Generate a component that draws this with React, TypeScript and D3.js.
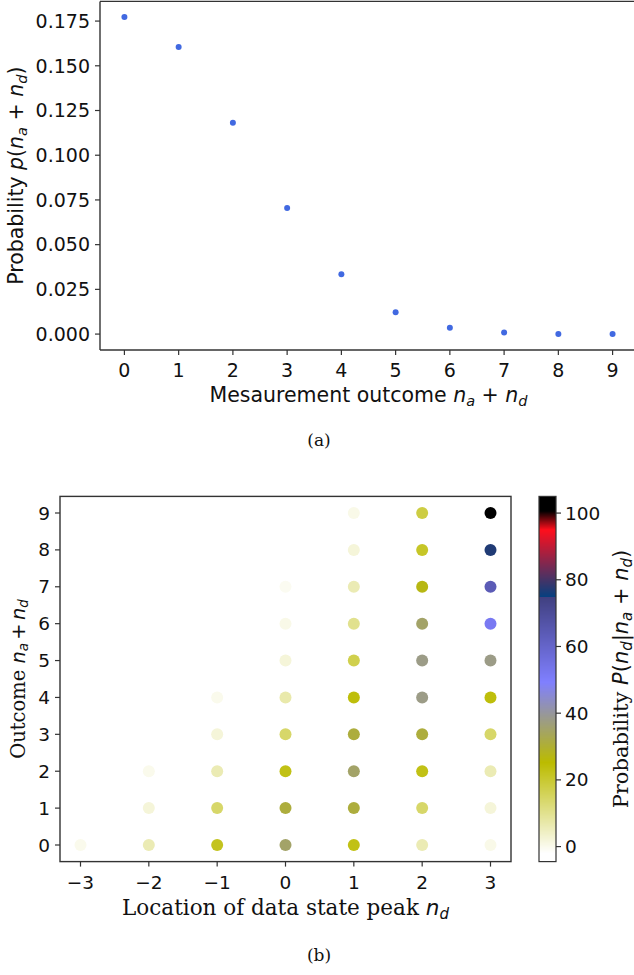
import React from "react";
import * as d3 from "d3";

// ---- Panel (a) data ----
const outcomes = [0, 1, 2, 3, 4, 5, 6, 7, 8, 9];
const probabilities = [0.1773, 0.1605, 0.1182, 0.0705, 0.0335, 0.0122, 0.0035, 0.0009, 0.0001, 0.00002];
const yTicksA = [0, 0.025, 0.05, 0.075, 0.1, 0.125, 0.15, 0.175];

// ---- Panel (b) data ----
const peakLocations = [-3, -2, -1, 0, 1, 2, 3];
const outcomeRows = [0, 1, 2, 3, 4, 5, 6, 7, 8, 9];
// conditional probability (%) per outcome row, columns nd = -3..3 (null = no point)
const row0 = [0, 6, 22, 35, 23, 6, 0.5];
const row1 = [null, 2, 14, 31, 31, 14, 2];
const row2 = [null, 0, 6, 23, 35, 23, 6];
const row3 = [null, null, 2, 14, 31, 31, 14];
const row4 = [null, null, 0, 7, 24, 38, 24];
const row5 = [null, null, null, 2, 17, 38, 38];
const row6 = [null, null, null, 0.5, 10, 35, 52];
const row7 = [null, null, null, -0.5, 6, 27, 64];
const row8 = [null, null, null, null, 2, 21, 77];
const row9 = [null, null, null, null, 0.5, 18, 101];
const condProb = [row0, row1, row2, row3, row4, row5, row6, row7, row8, row9];
const cbarTicks = [0, 20, 40, 60, 80, 100];

function gistStern(s: number): string {
  s = Math.max(0, Math.min(1, s));
  let r: number;
  if (s < 0.0547) r = s / 0.0547;
  else if (s < 0.25) r = 1 + ((s - 0.0547) / (0.25 - 0.0547)) * (0.027 - 1);
  else r = s;
  const g = s;
  let b: number;
  if (s < 0.5) b = 2 * s;
  else if (s < 0.735) b = 1 - (s - 0.5) / 0.235;
  else b = (s - 0.735) / 0.265;
  return d3.rgb(r * 255, g * 255, b * 255).formatHex();
}
const norm = d3.scaleLinear().domain([-2, 100.6]).range([0, 1]).clamp(true);
const colorOf = (v: number) => gistStern(1 - norm(v));

const SANS = "DejaVu Sans";
const SERIF = "DejaVu Serif";
const AX = "#333";

export default function App() {
  // panel a scales
  const xa = d3.scaleLinear().domain([-0.45, 9.45]).range([100, 637]);
  const ya = d3.scaleLinear().domain([-0.0089, 0.186]).range([350, 1.4]);
  // panel b scales
  const xb = d3.scaleLinear().domain([-3.3, 3.3]).range([60, 511]);
  const yb = d3.scaleLinear().domain([-0.45, 9.45]).range([861.6, 496.4]);
  const cb = d3.scaleLinear().domain([-4.5, 105]).range([861.6, 496.4]);
  const cbX0 = 539, cbX1 = 556;
  const cbPix = d3.range(Math.floor(cb(105)), Math.ceil(cb(-4.5)), 1);

  const fmtA = d3.format(".3f");
  const it = { fontStyle: "italic" as const };
  const TA = 19; // tick font a
  const LA = 20.5; // label font a
  const SA = 14.5; // subscript a
  const TB = 18.5;
  const LB = 21.5;
  const SB = 15;
  const YL = 19.5; // y-label font b
  const YS = 13.5;

  return (
    <svg width={634} height={975} style={{ position: "absolute", left: 0, top: 0, background: "#fff" }}>
      {/* ===== Panel (a) ===== */}
      <g>
        {outcomes.map((o, i) => (
          <circle key={o} cx={xa(o)} cy={ya(probabilities[i])} r={3} fill="#4169e1" />
        ))}
        <line x1={xa.range()[0]} x2={xa.range()[1]} y1={ya.range()[0]} y2={ya.range()[0]} stroke={AX} strokeWidth={1.4} />
        <line x1={xa.range()[0]} x2={xa.range()[1]} y1={ya.range()[1]} y2={ya.range()[1]} stroke={AX} strokeWidth={1.4} />
        <line x1={xa.range()[0]} x2={xa.range()[0]} y1={ya.range()[0]} y2={ya.range()[1]} stroke={AX} strokeWidth={1.4} />
        {outcomes.map((o) => (
          <g key={o}>
            <line x1={xa(o)} x2={xa(o)} y1={350} y2={355} stroke={AX} strokeWidth={1.2} />
            <text x={xa(o)} y={377} textAnchor="middle" fontFamily={SANS} fontSize={TA} fill="#111">{o}</text>
          </g>
        ))}
        {yTicksA.map((t) => (
          <g key={t}>
            <line x1={95} x2={100} y1={ya(t)} y2={ya(t)} stroke={AX} strokeWidth={1.2} />
            <text x={90} y={ya(t) + 6.8} textAnchor="end" fontFamily={SANS} fontSize={TA} fill="#111">{fmtA(t)}</text>
          </g>
        ))}
        <text x={368.5} y={402} textAnchor="middle" fontFamily={SANS} fontSize={LA} fill="#111">
          Mesaurement outcome <tspan {...it}>n</tspan><tspan {...it} fontSize={SA} dy={3.5}>a</tspan>
          <tspan dy={-3.5}> + </tspan><tspan {...it}>n</tspan><tspan {...it} fontSize={SA} dy={3.5}>d</tspan>
        </text>
        <text transform={`translate(23,${(350 + 1.4) / 2}) rotate(-90)`} textAnchor="middle" fontFamily={SANS} fontSize={LA} fill="#111">
          Probability <tspan {...it}>p</tspan>(<tspan {...it}>n</tspan><tspan {...it} fontSize={SA} dy={3.5}>a</tspan>
          <tspan dy={-3.5}> + </tspan><tspan {...it}>n</tspan><tspan {...it} fontSize={SA} dy={3.5}>d</tspan><tspan dy={-3.5}>)</tspan>
        </text>
        <text x={319} y={446} textAnchor="middle" fontFamily={SERIF} fontSize={17} fill="#111">(a)</text>
      </g>

      {/* ===== Panel (b) ===== */}
      <g>
        {condProb.map((row, ri) =>
          row.map((v, ci) =>
            v === null ? null : (
              <circle key={`${ri}-${ci}`} cx={xb(peakLocations[ci])} cy={yb(outcomeRows[ri])} r={6} fill={colorOf(v)} />
            )
          )
        )}
        <rect x={60} y={496.4} width={451} height={365.2} fill="none" stroke={AX} strokeWidth={1.4} />
        {peakLocations.map((p) => (
          <g key={p}>
            <line x1={xb(p)} x2={xb(p)} y1={861.6} y2={866.6} stroke={AX} strokeWidth={1.2} />
            <text x={xb(p)} y={889} textAnchor="middle" fontFamily={SANS} fontSize={TB} fill="#111">{p < 0 ? `\u2212${-p}` : p}</text>
          </g>
        ))}
        {outcomeRows.map((o) => (
          <g key={o}>
            <line x1={55} x2={60} y1={yb(o)} y2={yb(o)} stroke={AX} strokeWidth={1.2} />
            <text x={50} y={yb(o) + 6.6} textAnchor="end" fontFamily={SANS} fontSize={TB} fill="#111">{o}</text>
          </g>
        ))}
        <text x={285.5} y={915} textAnchor="middle" fontFamily={SERIF} fontSize={LB} fill="#111">
          Location of data state peak <tspan fontFamily={SANS} {...it}>n</tspan><tspan fontFamily={SANS} {...it} fontSize={SB} dy={3.5}>d</tspan>
        </text>
        <text transform={`translate(25,${(861.6 + 496.4) / 2}) rotate(-90)`} textAnchor="middle" fontFamily={SERIF} fontSize={YL} fill="#111">
          Outcome <tspan fontFamily={SANS} {...it}>n</tspan><tspan fontFamily={SANS} {...it} fontSize={YS} dy={3.2}>a</tspan>
          <tspan fontFamily={SANS} dy={-3.2}>{"\u2006+\u2006"}</tspan><tspan fontFamily={SANS} {...it}>n</tspan><tspan fontFamily={SANS} {...it} fontSize={YS} dy={3.2}>d</tspan>
        </text>

        {/* colorbar */}
        {cbPix.map((py) => (
          <rect key={py} x={cbX0} y={py} width={cbX1 - cbX0} height={1.2} fill={colorOf(cb.invert(py + 0.5))} />
        ))}
        <rect x={cbX0} y={496.4} width={cbX1 - cbX0} height={365.2} fill="none" stroke={AX} strokeWidth={1.2} />
        {cbarTicks.map((t) => (
          <g key={t}>
            <line x1={cbX1} x2={cbX1 + 5} y1={cb(t)} y2={cb(t)} stroke={AX} strokeWidth={1.2} />
            <text x={cbX1 + 9} y={cb(t) + 6.6} textAnchor="start" fontFamily={SANS} fontSize={TB} fill="#111">{t}</text>
          </g>
        ))}
        <text transform={`translate(628,${(861.6 + 496.4) / 2}) rotate(-90)`} textAnchor="middle" fontFamily={SERIF} fontSize={LB - 0.5} fill="#111">
          Probability <tspan fontFamily={SANS} {...it}>P</tspan><tspan fontFamily={SANS}>(</tspan><tspan fontFamily={SANS} {...it}>n</tspan><tspan fontFamily={SANS} {...it} fontSize={SB} dy={3.5}>d</tspan>
          <tspan fontFamily={SANS} dy={-3.5}>|</tspan><tspan fontFamily={SANS} {...it}>n</tspan><tspan fontFamily={SANS} {...it} fontSize={SB} dy={3.5}>a</tspan>
          <tspan fontFamily={SANS} dy={-3.5}> + </tspan><tspan fontFamily={SANS} {...it}>n</tspan><tspan fontFamily={SANS} {...it} fontSize={SB} dy={3.5}>d</tspan><tspan fontFamily={SANS} dy={-3.5}>)</tspan>
        </text>
        <text x={319} y={961} textAnchor="middle" fontFamily={SERIF} fontSize={17} fill="#111">(b)</text>
      </g>
    </svg>
  );
}
